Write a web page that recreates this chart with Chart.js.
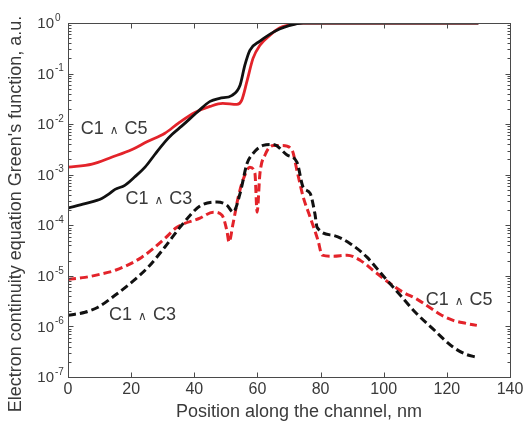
<!DOCTYPE html>
<html><head><meta charset="utf-8">
<script src="https://cdn.jsdelivr.net/npm/chart.js@4"></script>
<style>html,body{margin:0;padding:0;background:#fff}canvas{display:block}</style>
</head><body>
<canvas id="c" width="526" height="425"></canvas>
<script>
// ---- data ----
// Solid lines (upper pair)
const posSolidC5 = [0, 7.6, 14, 20.3, 25, 30.7, 35, 40.2, 45, 49, 53.5, 55, 56.7, 58.6, 60.8, 64, 67, 70, 73.5, 80, 90, 100, 110, 120, 130];
const valSolidC5 = [1.41e-3, 1.62e-3, 2.24e-3, 3.16e-3, 4.47e-3, 6.61e-3, 1.05e-2, 1.70e-2, 2.24e-2, 2.57e-2, 2.45e-2, 2.95e-2, 7.08e-2, 0.200, 0.363, 0.575, 0.794, 0.912, 1, 1, 1, 1, 1, 1, 1];

const posSolidC3 = [0, 5.4, 10.7, 13, 14.9, 18, 21, 24.4, 27.5, 30.7, 33, 36, 41, 45, 48, 52, 54.5, 56, 57.6, 60.8, 64, 67, 70, 74.5, 80, 90, 100, 110, 120, 130];
const valSolidC3 = [2.19e-4, 2.69e-4, 3.39e-4, 4.17e-4, 5.13e-4, 6.17e-4, 8.91e-4, 1.41e-3, 2.51e-3, 4.47e-3, 6.31e-3, 9.12e-3, 1.74e-2, 2.82e-2, 3.24e-2, 3.72e-2, 5.89e-2, 0.145, 0.288, 0.437, 0.603, 0.759, 0.891, 1, 1, 1, 1, 1, 1, 1];

// Dashed lines (lower pair)
const posDashC5 = [0, 5.4, 10, 15, 23.4, 30.7, 34.5, 41.8, 46, 48.8, 50.3, 51, 52.3, 53.9, 55.4, 57.6, 59.2, 59.9, 60.8, 62.4, 65, 68, 71, 72.5, 74.5, 76.7, 79.2, 80.5, 84, 88.4, 92.5, 96.6, 102, 106, 110.5, 114, 117.8, 122, 126, 129.5];
const valDashC5 = [8.51e-6, 9.33e-6, 1.07e-5, 1.29e-5, 2.34e-5, 5.50e-5, 9.12e-5, 1.38e-4, 1.82e-4, 1.58e-4, 7.94e-5, 4.68e-5, 1.10e-4, 3.55e-4, 7.76e-4, 1.41e-3, 1.07e-3, 1.82e-4, 1.07e-3, 2.45e-3, 3.80e-3, 3.80e-3, 3.02e-3, 1.23e-3, 3.63e-4, 1.45e-4, 5.01e-5, 2.57e-5, 2.45e-5, 2.57e-5, 2.04e-5, 1.29e-5, 7.08e-6, 4.79e-6, 3.47e-6, 2.51e-6, 1.74e-6, 1.32e-6, 1.15e-6, 1.05e-6];

const posDashC3 = [0, 5.4, 9.5, 15, 20.3, 25.5, 30.7, 36, 41.8, 47.2, 50.3, 52.3, 54.5, 56.7, 58.6, 61.8, 65, 69.4, 72.5, 74.5, 76.7, 78.2, 78.9, 84, 89.3, 94.7, 99.8, 105.2, 110, 115.6, 122, 126, 129.5];
const valDashC3 = [1.66e-6, 1.91e-6, 2.40e-6, 4.17e-6, 7.59e-6, 1.51e-5, 3.72e-5, 1.0e-4, 2.40e-4, 2.88e-4, 2.51e-4, 1.82e-4, 4.27e-4, 1.66e-3, 2.63e-3, 3.80e-3, 3.98e-3, 2.45e-3, 1.78e-3, 5.62e-4, 4.27e-4, 1.70e-4, 9.12e-5, 6.31e-5, 4.37e-5, 2.34e-5, 1.0e-5, 4.17e-6, 1.91e-6, 8.91e-7, 3.89e-7, 2.82e-7, 2.45e-7];

const xTickValues = [0, 20, 40, 60, 80, 100, 120, 140];
const yTickExponents = [0, -1, -2, -3, -4, -5, -6, -7];

const labelTexts = [['C1', 'C5'], ['C1', 'C3'], ['C1', 'C3'], ['C1', 'C5']];
const labelX = [14.6, 28.8, 23.6, 123.9];
const labelY = [8.7e-3, 3.6e-4, 1.8e-6, 3.6e-6];

const xTitle = 'Position along the channel, nm';
const yTitle = "Electron continuity equation Green's function, a.u.";

// ---- build ----
const pts = (xs, ys) => xs.map((v, i) => ({x: v, y: ys[i]}));
const RED = '#e3232a', BLACK = '#111111';
const FONT = '"Liberation Sans", Arial, Helvetica, sans-serif';
const TXT = '#3a3a3a';

const deco = {
  id: 'deco',
  afterDatasetsDraw(chart) {
    const {ctx, chartArea: a, scales: {x, y}} = chart;
    ctx.save();
    const L = Math.round(a.left) + 0.5, R = Math.round(a.right) + 0.5;
    const T = Math.round(a.top) + 0.5, B = Math.round(a.bottom) + 0.5;
    ctx.strokeStyle = '#4a4a4a'; ctx.lineWidth = 1;
    ctx.strokeRect(L, T, R - L, B - T);
    ctx.beginPath();
    xTickValues.forEach(v => {
      const px = Math.round(x.getPixelForValue(v)) + 0.5;
      ctx.moveTo(px, B); ctx.lineTo(px, B - 5);
      ctx.moveTo(px, T); ctx.lineTo(px, T + 5);
    });
    yTickExponents.forEach(e => {
      const py = Math.round(y.getPixelForValue(Math.pow(10, e))) + 0.5;
      ctx.moveTo(L, py); ctx.lineTo(L + 5, py);
      ctx.moveTo(R, py); ctx.lineTo(R - 5, py);
      if (e < 0) {
        for (let m = 2; m <= 9; m++) {
          const pm = Math.round(y.getPixelForValue(m * Math.pow(10, e))) + 0.5;
          ctx.moveTo(L, pm); ctx.lineTo(L + 3, pm);
          ctx.moveTo(R, pm); ctx.lineTo(R - 3, pm);
        }
      }
    });
    ctx.stroke();

    // tick labels
    ctx.fillStyle = TXT;
    ctx.font = '16px ' + FONT;
    ctx.textAlign = 'center'; ctx.textBaseline = 'middle';
    xTickValues.forEach(v => ctx.fillText(String(v), x.getPixelForValue(v), a.bottom + 13));
    yTickExponents.forEach(e => {
      const py = y.getPixelForValue(Math.pow(10, e));
      ctx.font = '15px ' + FONT; ctx.textAlign = 'right'; ctx.textBaseline = 'middle';
      ctx.fillText('10', a.left - 14, py + 1);
      ctx.font = '10px ' + FONT; ctx.textAlign = 'left';
      ctx.fillText(e === 0 ? '0' : '-' + String(-e), a.left - 13, py - 5);
    });

    // titles
    ctx.font = '18px ' + FONT; ctx.textAlign = 'center'; ctx.textBaseline = 'middle';
    ctx.fillText(xTitle, 299, a.bottom + 35);
    ctx.save();
    ctx.translate(16, 214); ctx.rotate(-Math.PI / 2);
    ctx.fillText(yTitle, 0, 0);
    ctx.restore();

    // curve labels
    labelTexts.forEach((parts, i) => {
      const cx = x.getPixelForValue(labelX[i]);
      const cy = y.getPixelForValue(labelY[i]);
      ctx.textBaseline = 'alphabetic'; ctx.textAlign = 'left';
      ctx.font = '18px ' + FONT;
      const w1 = ctx.measureText(parts[0]).width, w2 = ctx.measureText(parts[1]).width;
      ctx.font = '12px "DejaVu Sans", sans-serif';
      const wa = ctx.measureText('\u2227').width;
      const gap = 6;
      const total = w1 + gap + wa + gap + w2;
      let sx = cx - total / 2;
      const base = cy + 6.5;
      ctx.font = '18px ' + FONT;
      ctx.fillText(parts[0], sx, base);
      ctx.font = '12px "DejaVu Sans", sans-serif';
      ctx.fillText('\u2227', sx + w1 + gap, base);
      ctx.font = '18px ' + FONT;
      ctx.fillText(parts[1], sx + w1 + gap + wa + gap, base);
    });
    ctx.restore();
  }
};

new Chart(document.getElementById('c'), {
  type: 'line',
  data: {
    datasets: [
      {label: 'C1 \u2227 C3 (solid)', data: pts(posSolidC3, valSolidC3), borderColor: BLACK, borderWidth: 2.8},
      {label: 'C1 \u2227 C5 (solid)', data: pts(posSolidC5, valSolidC5), borderColor: RED, borderWidth: 2.8},
      {label: 'C1 \u2227 C3 (dashed)', data: pts(posDashC3, valDashC3), borderColor: BLACK, borderWidth: 3, borderDash: [8, 4]},
      {label: 'C1 \u2227 C5 (dashed)', data: pts(posDashC5, valDashC5), borderColor: RED, borderWidth: 3, borderDash: [8, 4]}
    ]
  },
  options: {
    responsive: false,
    animation: false,
    devicePixelRatio: 1,
    layout: {padding: {left: 68, right: 16, top: 23, bottom: 48}},
    elements: {point: {radius: 0}, line: {cubicInterpolationMode: 'monotone', fill: false, borderJoinStyle: 'round'}},
    scales: {
      x: {type: 'linear', min: 0, max: 140, display: false},
      y: {type: 'logarithmic', min: 1e-7, max: 1, display: false}
    },
    plugins: {legend: {display: false}, tooltip: {enabled: false}}
  },
  plugins: [deco]
});
</script>
</body></html>
